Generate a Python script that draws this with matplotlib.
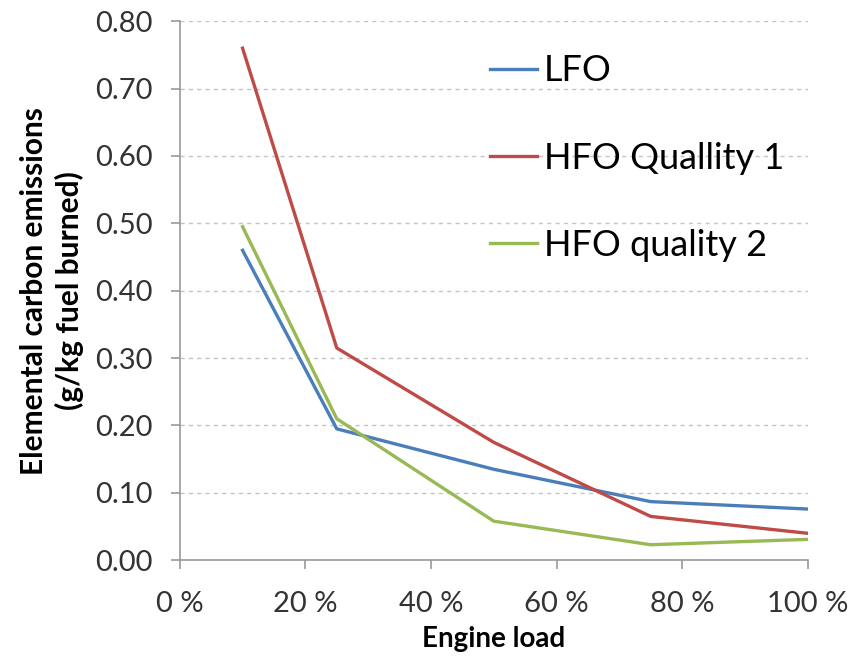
import matplotlib
matplotlib.use("Agg")
import matplotlib.pyplot as plt
from matplotlib.ticker import FuncFormatter, MultipleLocator

# engine load (%) and elemental carbon emissions (g/kg fuel burned)
loads = [10, 25, 50, 75, 100]
lfo = [0.46, 0.195, 0.135, 0.087, 0.076]
hfo_q1 = [0.76, 0.315, 0.175, 0.065, 0.040]
hfo_q2 = [0.495, 0.21, 0.058, 0.023, 0.031]

series = [
    ("LFO", lfo, "#4a7ebb"),
    ("HFO Quallity 1", hfo_q1, "#be4b48"),
    ("HFO quality 2", hfo_q2, "#98b954"),
]

plt.rcParams["font.family"] = ["Lato", "DejaVu Sans"]

fig = plt.figure(figsize=(8.52, 6.63), dpi=100)
ax = fig.add_axes([0.211, 0.155, 0.737, 0.813])

for name, values, color in series:
    ax.plot(loads, values, color=color, lw=2.4, label=name)

ax.set_xlim(0, 100)
ax.set_ylim(0, 0.8)
ax.xaxis.set_major_locator(MultipleLocator(20))
ax.yaxis.set_major_locator(MultipleLocator(0.1))
ax.xaxis.set_major_formatter(FuncFormatter(lambda v, p: f"{v:.0f} %"))
ax.yaxis.set_major_formatter(FuncFormatter(lambda v, p: f"{v:.2f}"))

ax.grid(axis="y", color="#c4c4c4", lw=1, ls=(0, (3, 3)))
ax.set_axisbelow(True)
for side in ("top", "right"):
    ax.spines[side].set_visible(False)
for side in ("left", "bottom"):
    ax.spines[side].set_color("#999999")
    ax.spines[side].set_linewidth(1.2)

ax.tick_params(axis="both", colors="#999999", labelcolor="#333333", labelsize=21, length=6.5, width=1.2)
ax.tick_params(axis="x", pad=16)
ax.tick_params(axis="y", pad=13)

ax.set_ylabel("Elemental carbon emissions\n(g/kg fuel burned)", fontsize=21.5, fontweight="bold",
              labelpad=8, linespacing=1.3)
ax.set_xlabel("Engine load", fontsize=20, fontweight="bold", labelpad=6)

ax.legend(loc="upper left", bbox_to_anchor=(0.575, 0.918), bbox_transform=fig.transFigure,
          frameon=False, fontsize=26, handlelength=1.3, handletextpad=0.2, labelspacing=1.5,
          borderpad=0, borderaxespad=0)

fig.savefig("out.png", dpi=100)
